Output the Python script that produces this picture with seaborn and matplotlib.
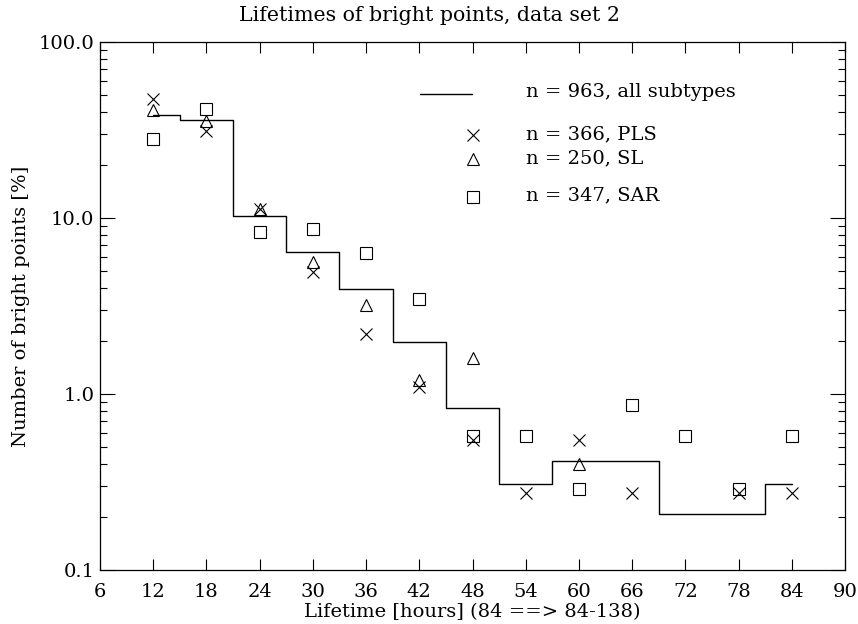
import matplotlib
matplotlib.use("Agg")
import matplotlib.pyplot as plt
import matplotlib.ticker as mticker
import seaborn as sns

# lifetime bins [hours]; last bin collects 84-138
hours = [12, 18, 24, 30, 36, 42, 48, 54, 60, 66, 72, 78, 84]
# all subtypes (n = 963), percent
all_pct = [38.7, 36.0, 10.2, 6.44, 3.95, 1.97, 0.83, 0.31, 0.415, 0.415, 0.208, 0.208, 0.31]

# PLS (n = 366)
pls_hours = [12, 18, 24, 30, 36, 42, 48, 54, 60, 66, 78, 84]
pls_pct = [47.3, 31.1, 11.2, 4.92, 2.19, 1.09, 0.546, 0.273, 0.546, 0.273, 0.273, 0.273]

# SL (n = 250)
sl_hours = [12, 18, 24, 30, 36, 42, 48, 60]
sl_pct = [41.2, 35.6, 11.2, 5.6, 3.2, 1.2, 1.6, 0.4]

# SAR (n = 347)
sar_hours = [12, 18, 24, 30, 36, 42, 48, 54, 60, 66, 72, 78, 84]
sar_pct = [27.95, 41.5, 8.36, 8.65, 6.34, 3.46, 0.576, 0.576, 0.288, 0.865, 0.576, 0.288, 0.576]

legend_labels = ["n = 963, all subtypes", "n = 366, PLS", "n = 250, SL", "n = 347, SAR"]

sns.set_theme(style="ticks")
plt.rcParams['font.family'] = ['DejaVu Serif']
plt.rcParams['text.color'] = 'black'
plt.rcParams['axes.labelcolor'] = 'black'
plt.rcParams['xtick.color'] = 'black'
plt.rcParams['ytick.color'] = 'black'

FS = 14

fig, ax = plt.subplots(figsize=(8.58, 6.24), dpi=100)
fig.subplots_adjust(left=0.1166, right=0.9848, bottom=0.0865, top=0.9327)

# histogram of all subtypes as a step line
sns.lineplot(x=hours, y=all_pct, drawstyle="steps-mid", color="black",
             linewidth=1.0, ax=ax, estimator=None)

mk = dict(color="black", linestyle="none", markeredgewidth=0.8,
          markeredgecolor="black", ax=ax, estimator=None)
sns.lineplot(x=pls_hours, y=pls_pct, marker="x", markersize=8.6, **mk)
sns.lineplot(x=sl_hours, y=sl_pct, marker="^", markersize=9, markerfacecolor="none", **mk)
sns.lineplot(x=sar_hours, y=sar_pct, marker="s", markersize=8, markerfacecolor="none", **mk)

ax.set_yscale("log")
ax.set_xlim(6, 90)
ax.set_ylim(0.1, 100)
ax.set_xticks(range(6, 91, 6))
ax.yaxis.set_major_locator(mticker.FixedLocator([0.1, 1, 10, 100]))
ax.yaxis.set_major_formatter(mticker.FixedFormatter(["0.1", "1.0", "10.0", "100.0"]))
ax.yaxis.set_minor_locator(mticker.LogLocator(base=10, subs=range(2, 10)))
ax.yaxis.set_minor_formatter(mticker.NullFormatter())

ax.tick_params(axis="x", which="major", direction="in", length=7.6, width=0.8,
               top=True, bottom=True, labelsize=FS, pad=9)
ax.tick_params(axis="y", which="major", direction="in", length=10.7, width=0.8,
               left=True, right=True, labelsize=FS, pad=4)
ax.tick_params(axis="y", which="minor", direction="in", length=5, width=0.8,
               left=True, right=True)
for s in ax.spines.values():
    s.set_linewidth(0.9)
    s.set_color("black")
    s.set_visible(True)
ax.grid(False)

ax.set_xlabel("Lifetime [hours] (84 ==> 84-138)", fontsize=FS, labelpad=2)
ax.set_ylabel("Number of bright points [%]", fontsize=FS, labelpad=6)
fig.suptitle("Lifetimes of bright points, data set 2", fontsize=14.8, x=0.5, y=0.99)

# legend block drawn inside the axes
tr = ax.transAxes
ax.plot([0.4295, 0.4993], [0.9015, 0.9015], color="black", linewidth=1.0, transform=tr)
ax.plot([0.5003], [0.824], marker="x", markersize=8.6, color="black",
        markeredgewidth=0.8, transform=tr)
ax.plot([0.5003], [0.778], marker="^", markersize=9, markerfacecolor="none",
        markeredgecolor="black", markeredgewidth=0.8, transform=tr)
ax.plot([0.5003], [0.707], marker="s", markersize=8, markerfacecolor="none",
        markeredgecolor="black", markeredgewidth=0.8, transform=tr)
for lab, yy in zip(legend_labels, [0.905, 0.826, 0.780, 0.709]):
    ax.text(0.5718, yy, lab, transform=tr, fontsize=FS, va="center", ha="left")

fig.savefig("out.png", dpi=100, facecolor="white")
